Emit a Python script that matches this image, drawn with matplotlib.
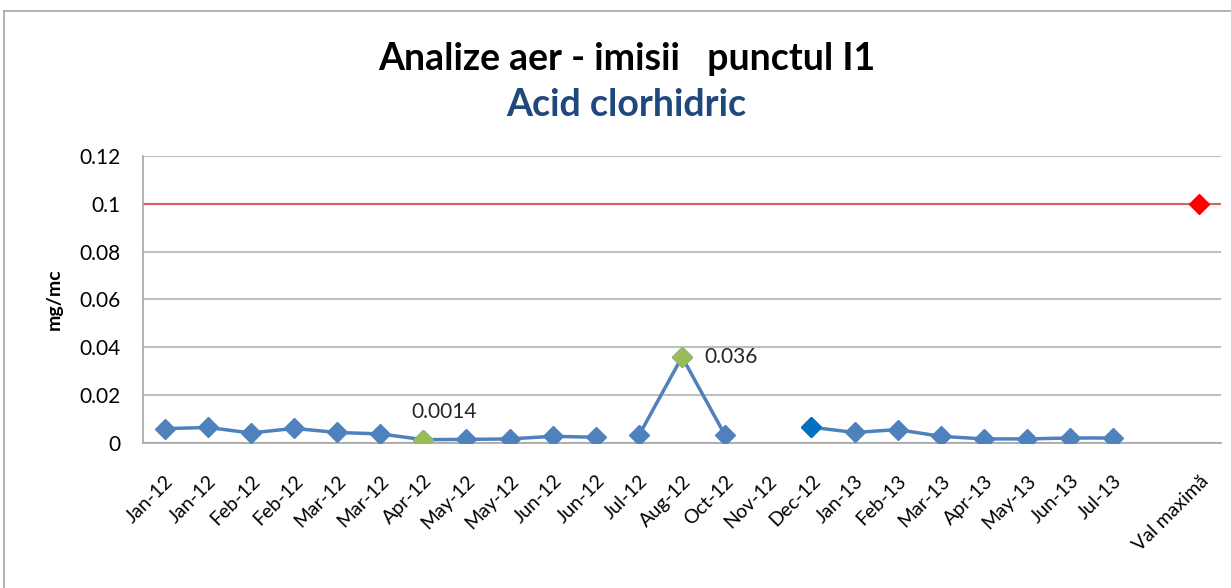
import numpy as np
import matplotlib.pyplot as plt
from matplotlib.lines import Line2D

plt.rcParams["font.family"] = ["Lato", "DejaVu Sans"]

# category labels (one blank slot before the limit value)
labels = ["Jan-12", "Jan-12", "Feb-12", "Feb-12", "Mar-12", "Mar-12", "Apr-12",
          "May-12", "May-12", "Jun-12", "Jun-12", "Jul-12", "Aug-12", "Oct-12",
          "Nov-12", "Dec-12", "Jan-13", "Feb-13", "Mar-13", "Apr-13", "May-13",
          "Jun-13", "Jul-13", "", "Val maximă"]

# measured values, split the way the original series are broken
seg1 = [0.0060, 0.0065, 0.0042, 0.0061, 0.0044, 0.0038, 0.0014,
        0.0015, 0.0017, 0.0028, 0.0024]          # Jan-12 .. Jun-12
seg2 = [0.0032, 0.036, 0.0032]                   # Jul-12 .. Oct-12
seg3 = [0.0066, 0.0044, 0.0056, 0.0028, 0.0017, 0.0017, 0.0021, 0.0021]  # Dec-12 .. Jul-13
limit = 0.1

BLUE = "#4F81BD"
GREEN = "#9BBB59"
DARKBLUE = "#0070C0"
RED = "#FF0000"

fig = plt.figure(figsize=(12.31, 5.88), dpi=100)
ax = fig.add_axes([0.1162, 0.2466, 0.8757, 0.4881])

# outer chart frame
fig.add_artist(Line2D([0.003, 1.0], [0.981, 0.981], transform=fig.transFigure,
                      color="#A6A6A6", lw=1.2))
fig.add_artist(Line2D([0.003, 0.003], [0.0, 0.981], transform=fig.transFigure,
                      color="#A6A6A6", lw=1.2))

x = np.arange(len(labels))
ax.set_xlim(-0.5, len(labels) - 0.5)
ax.set_ylim(0, 0.12)
ax.set_yticks(np.arange(0, 0.121, 0.02))
ax.set_yticklabels(["0", "0.02", "0.04", "0.06", "0.08", "0.1", "0.12"], fontsize=15)
ax.yaxis.grid(True, color="#BFBFBF", lw=1.5)
ax.set_axisbelow(True)
ax.tick_params(axis="y", length=0, pad=16)

ax.axhline(limit, color="#E06060", lw=1.5, zorder=1.5)

mk = dict(marker="D", markersize=10, color=BLUE, lw=2.5, zorder=3)
ax.plot(x[0:11], seg1, **mk)
ax.plot(x[11:14], seg2, **mk)
ax.plot(x[15:23], seg3, **mk)

# highlighted points
ax.plot(x[6], seg1[6], "D", color=GREEN, markersize=10, zorder=4)
ax.plot(x[12], seg2[1], "D", color=GREEN, markersize=10, zorder=4)
ax.plot(x[15], seg3[0], "D", color=DARKBLUE, markersize=10, zorder=4)
ax.plot(x[24], limit, "D", color=RED, markersize=10, zorder=4)

ax.annotate("0.0014", (x[6], seg1[6]), xytext=(15, 20), textcoords="offset points",
            ha="center", va="center", fontsize=15, color="#262626")
ax.annotate("0.036", (x[12], seg2[1]), xytext=(16, 0), textcoords="offset points",
            ha="left", va="center", fontsize=15, color="#262626")

ax.set_xticks(x)
ax.set_xticklabels(labels, rotation=45, ha="right", rotation_mode="anchor", fontsize=14)
ax.tick_params(axis="x", length=0, pad=21)

for side in ["top", "right"]:
    ax.spines[side].set_visible(False)
for side in ["left", "bottom"]:
    ax.spines[side].set_color("#A6A6A6")
    ax.spines[side].set_linewidth(1.2)

ax.set_ylabel("mg/mc", fontsize=14, fontweight="bold", labelpad=12)

fig.text(0.509, 0.900, "Analize aer - imisii   punctul I1", ha="center", va="center",
         fontsize=27, fontweight="bold", color="black")
fig.text(0.509, 0.822, "Acid clorhidric", ha="center", va="center",
         fontsize=27, fontweight="bold", color="#1F497D")

fig.savefig("out.png", dpi=100)
